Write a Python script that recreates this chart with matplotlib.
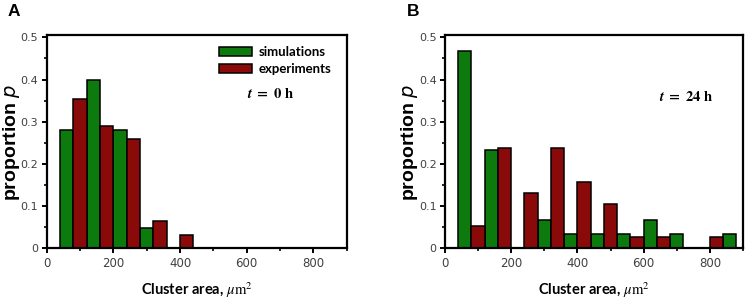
import matplotlib
matplotlib.use("Agg")
import matplotlib.pyplot as plt
import numpy as np
from matplotlib.ticker import MultipleLocator

# bin centres (cluster area, um^2) and proportions
bins_a = [80, 160, 240, 320, 400]
sim_a = [0.28, 0.40, 0.28, 0.047, 0.0]
exp_a = [0.355, 0.29, 0.258, 0.065, 0.032]

bins_b = [80, 160, 240, 320, 400, 480, 560, 640, 720, 800, 880]
sim_b = [0.467, 0.233, 0.0, 0.067, 0.033, 0.033, 0.033, 0.067, 0.033, 0.0, 0.033]
exp_b = [0.053, 0.237, 0.132, 0.237, 0.158, 0.105, 0.026, 0.026, 0.0, 0.026, 0.0]

GREEN = "#0d7a0d"
RED = "#8a0a0a"
TICK_GREY = "#404040"


def draw_bars(ax, centres, values, offset, colour, label):
    centres = np.asarray(centres, dtype=float)
    values = np.asarray(values, dtype=float)
    keep = values > 0
    ax.bar(centres[keep] + offset, values[keep], width=40, color=colour,
           edgecolor="black", linewidth=1.1, label=label, zorder=2)


def style_axes(ax):
    ax.set_xlim(0, 900)
    ax.set_ylim(0, 0.505)
    ax.xaxis.set_major_locator(MultipleLocator(200))
    ax.xaxis.set_minor_locator(MultipleLocator(100))
    ax.yaxis.set_minor_locator(MultipleLocator(0.05))
    ax.set_yticks([0, 0.1, 0.2, 0.3, 0.4, 0.5])
    ax.set_yticklabels(["0", "0.1", "0.2", "0.3", "0.4", "0.5"])
    for side in ax.spines.values():
        side.set_linewidth(1.6)
    ax.tick_params(which="major", direction="out", length=3.5, width=1.4,
                   labelsize=8, labelcolor=TICK_GREY, pad=2.5)
    ax.tick_params(axis="x", which="major", labelsize=8.5, pad=3)
    ax.tick_params(which="minor", direction="out", length=2, width=1.2)
    ax.set_xlabel(r"Cluster area, $\mu\mathrm{m}^2$", fontsize=10.5,
                  fontweight="bold", family="Lato", math_fontfamily="stix",
                  labelpad=7)
    ax.set_ylabel(r"proportion $\it{p}$", fontsize=14, fontweight="bold",
                  family="Liberation Sans", math_fontfamily="dejavusans")
    # keep the rotated label just left of the tick labels
    ax.yaxis.set_label_coords(-0.083, 0.5)


fig = plt.figure(figsize=(7.48, 3.01), dpi=100)
ax_a = fig.add_axes([46.7 / 748, 1 - 248.3 / 301, 300 / 748, 213 / 301])
ax_b = fig.add_axes([445 / 748, 1 - 248.3 / 301, 298 / 748, 213 / 301])

draw_bars(ax_a, bins_a, sim_a, -20, GREEN, "simulations")
draw_bars(ax_a, bins_a, exp_a, 20, RED, "experiments")
draw_bars(ax_b, bins_b, sim_b, -20, GREEN, "simulations")
draw_bars(ax_b, bins_b, exp_b, 20, RED, "experiments")

for ax in (ax_a, ax_b):
    style_axes(ax)

ax_a.legend(loc="upper left", bbox_to_anchor=(0.54, 1.0), frameon=False,
            prop={"family": "Lato", "weight": "bold", "size": 9.5},
            handlelength=2.5, handleheight=0.65, labelspacing=0.4,
            handletextpad=0.5, borderpad=0.3)

ax_a.text(0.745, 0.725, r"$\mathbfit{t}\ \mathbf{=\ 0\ h}$", transform=ax_a.transAxes,
          ha="center", va="center", fontsize=10.5, math_fontfamily="stix")
ax_b.text(0.81, 0.715, r"$\mathbfit{t}\ \mathbf{=\ 24\ h}$", transform=ax_b.transAxes,
          ha="center", va="center", fontsize=10.5, math_fontfamily="stix")

fig.text(8 / 748, 1 - 4 / 301, "A", fontsize=12.5, fontweight="bold",
         family="Liberation Sans", va="top", ha="left")
fig.text(407 / 748, 1 - 4 / 301, "B", fontsize=12.5, fontweight="bold",
         family="Liberation Sans", va="top", ha="left")

fig.savefig("out.png", dpi=100)
